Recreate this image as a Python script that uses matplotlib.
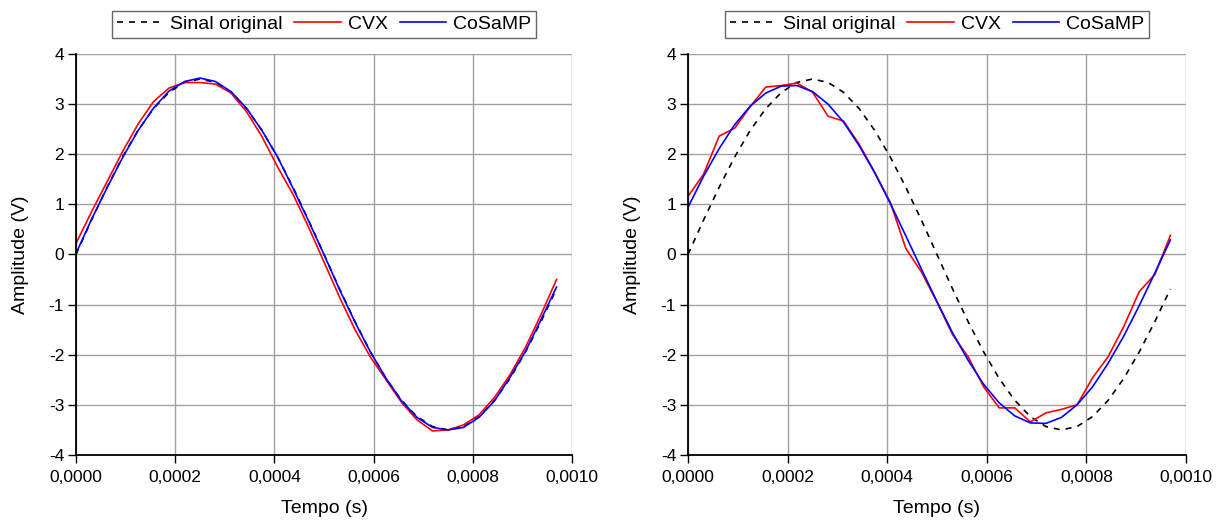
import numpy as np
import matplotlib.pyplot as plt
from matplotlib.ticker import FuncFormatter

plt.rcParams['font.family'] = ['Liberation Sans', 'DejaVu Sans']
plt.rcParams['axes.unicode_minus'] = False

# tempo das amostras (s): 32 amostras por ms
tempo = np.arange(32) / 32000.0

original = [0.0, 0.686, 1.339, 1.944, 2.475, 2.910, 3.234, 3.433, 3.5, 3.433,
            3.234, 2.910, 2.475, 1.944, 1.339, 0.686, 0.0, -0.686, -1.339, -1.944,
            -2.475, -2.910, -3.234, -3.433, -3.5, -3.433, -3.234, -2.910, -2.475,
            -1.944, -1.339, -0.686]

# caso 1
cvx_1 = [0.22, 0.85, 1.45, 2.05, 2.6, 3.05, 3.32, 3.43, 3.43, 3.40,
         3.22, 2.85, 2.35, 1.75, 1.2, 0.55, -0.15, -0.85, -1.5, -2.05,
         -2.5, -2.95, -3.3, -3.52, -3.5, -3.4, -3.2, -2.85, -2.4, -1.85,
         -1.2, -0.5]
cosamp_1 = [0.02, 0.70, 1.33, 1.93, 2.47, 2.92, 3.26, 3.45, 3.52, 3.45,
            3.25, 2.92, 2.47, 1.95, 1.32, 0.67, 0.0, -0.70, -1.35, -1.95,
            -2.47, -2.92, -3.25, -3.45, -3.5, -3.45, -3.25, -2.92, -2.45, -1.93,
            -1.3, -0.65]

# caso 2
cvx_2 = [1.16, 1.6, 2.36, 2.52, 2.95, 3.34, 3.37, 3.42, 3.24, 2.76,
         2.66, 2.2, 1.64, 1.04, 0.12, -0.35, -0.95, -1.6, -2.04, -2.64,
         -3.06, -3.06, -3.34, -3.16, -3.09, -3.0, -2.46, -2.04, -1.44, -0.74,
         -0.4, 0.38]
cosamp_2 = [0.94, 1.56, 2.11, 2.59, 2.96, 3.22, 3.36, 3.37, 3.25, 3.0,
            2.64, 2.17, 1.63, 1.02, 0.37, -0.29, -0.94, -1.56, -2.11, -2.59,
            -2.96, -3.22, -3.36, -3.37, -3.25, -3.0, -2.64, -2.17, -1.63, -1.02,
            -0.37, 0.29]

casos = [(cvx_1, cosamp_1), (cvx_2, cosamp_2)]

fig = plt.figure(figsize=(12.22, 5.21), dpi=100)
posicoes = [[0.0622, 0.1267, 0.4059, 0.7697], [0.563, 0.1267, 0.4075, 0.7697]]

fmt = FuncFormatter(lambda v, p: ('%.4f' % v).replace('.', ','))

for pos, (cvx, cosamp) in zip(posicoes, casos):
    ax = fig.add_axes(pos)
    ax.plot(tempo, original, color='black', linestyle=(0, (3.6, 3.6)), lw=1.2, label='Sinal original')
    ax.plot(tempo, cvx, color='#ff0000', lw=1.2, label='CVX')
    ax.plot(tempo, cosamp, color='#0000ff', lw=1.2, label='CoSaMP')
    ax.set_xlim(0, 0.001)
    ax.set_ylim(-4, 4)
    ax.set_xticks(np.arange(0, 0.00101, 0.0002))
    ax.set_yticks(np.arange(-4, 5, 1))
    ax.xaxis.set_major_formatter(fmt)
    ax.grid(True, color='#a0a0a0', lw=1)
    ax.set_axisbelow(True)
    for s in ['top', 'right']:
        ax.spines[s].set_visible(False)
    for s in ['left', 'bottom']:
        ax.spines[s].set_linewidth(1.3)
    ax.tick_params(direction='out', length=5.5, width=1, labelsize=12.5)
    ax.tick_params(axis='x', pad=5)
    ax.tick_params(axis='y', pad=3)
    ax.set_xlabel('Tempo (s)', fontsize=14, labelpad=11)
    ax.set_ylabel('Amplitude (V)', fontsize=14, labelpad=14)
    leg = ax.legend(loc='lower center', bbox_to_anchor=(0.5, 1.04), ncol=3,
                    fontsize=14, fancybox=False, edgecolor='#404040',
                    handlelength=2.4, columnspacing=0.6, handletextpad=0.35,
                    borderpad=0.25, borderaxespad=0)
    leg.get_frame().set_linewidth(1)

fig.savefig('out.png', dpi=100)
